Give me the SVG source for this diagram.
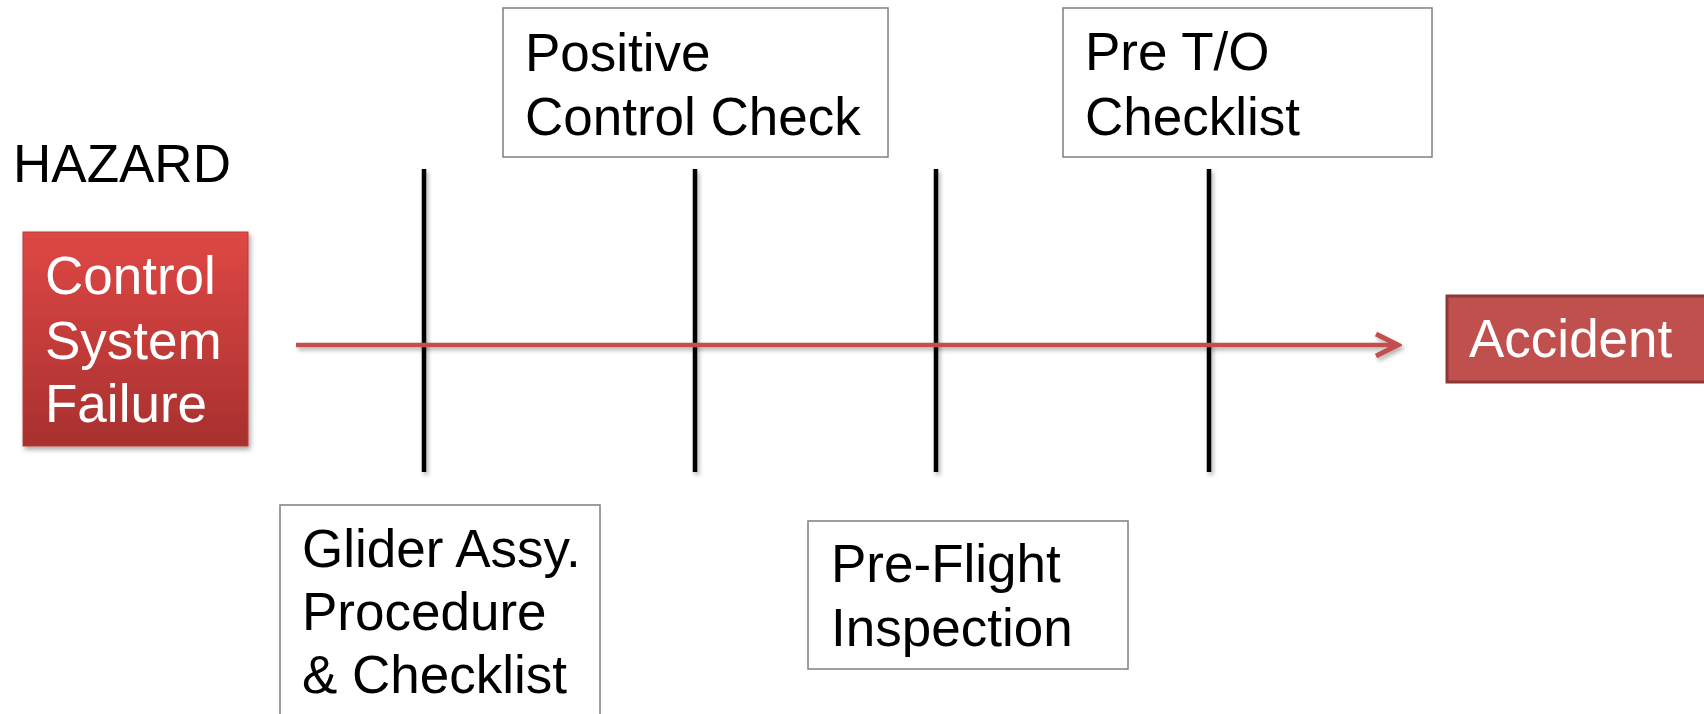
<svg xmlns="http://www.w3.org/2000/svg" width="1704" height="714" viewBox="0 0 1704 714">
<style>
text{font-family:"Liberation Sans",Arial,sans-serif;font-size:53px;}
.dark{fill:#000;}
.light{fill:#fff;}
.box{fill:#fff;stroke:#7f7f7f;stroke-width:1.5;}
.bar{stroke:#000;stroke-width:4.5;fill:none;}
.flow{stroke:#c0504d;stroke-width:4.5;fill:none;}
</style>
<defs>
<linearGradient id="redg" x1="0" y1="0" x2="0" y2="1">
<stop offset="0" stop-color="#de4845"/>
<stop offset="1" stop-color="#a8302e"/>
</linearGradient>
<filter id="sh" x="-10%" y="-10%" width="130%" height="130%">
<feDropShadow dx="2" dy="3" stdDeviation="2.5" flood-color="#000" flood-opacity="0.35"/>
</filter>
<filter id="lsh" filterUnits="userSpaceOnUse" x="0" y="0" width="1704" height="714">
<feDropShadow dx="2" dy="3" stdDeviation="2" flood-color="#000" flood-opacity="0.3"/>
</filter>
<marker id="arrow" markerUnits="userSpaceOnUse" markerWidth="30" markerHeight="30" refX="26" refY="15" orient="auto">
<path d="M4,4 L26,15 L4,26" fill="none" stroke="#c0504d" stroke-width="5" stroke-linejoin="miter"/>
</marker>
</defs>
<rect width="1704" height="714" fill="#fff"/>
<g id="hazard-label"><text class="dark" x="13" y="182">HAZARD</text></g>
<g id="hazard">
<rect x="23" y="232" width="225" height="214" fill="url(#redg)" stroke="#b83c39" stroke-width="1" filter="url(#sh)"/>
<text class="light" x="45" y="294">Control</text>
<text class="light" x="45" y="359">System</text>
<text class="light" x="45" y="422">Failure</text>
</g>
<g id="barriers" filter="url(#lsh)">
<line class="bar" x1="424" y1="169" x2="424" y2="472"/>
<line class="bar" x1="695" y1="169" x2="695" y2="472"/>
<line class="bar" x1="936" y1="169" x2="936" y2="472"/>
<line class="bar" x1="1209" y1="169" x2="1209" y2="472"/>
</g>
<g id="connectors" filter="url(#lsh)">
<line class="flow" x1="296" y1="345" x2="1398" y2="345" marker-end="url(#arrow)"/>
</g>
<g id="accident">
<rect x="1447" y="296" width="270" height="86" fill="#c0504d" stroke="#8c3836" stroke-width="3"/>
<text class="light" x="1469" y="357">Accident</text>
</g>
<g id="positive-control-check">
<rect class="box" x="503" y="8" width="385" height="149"/>
<text class="dark" x="525" y="71">Positive</text>
<text class="dark" x="525" y="135">Control Check</text>
</g>
<g id="pre-to-checklist">
<rect class="box" x="1063" y="8" width="369" height="149"/>
<text class="dark" x="1085" y="70">Pre T/O</text>
<text class="dark" x="1085" y="135">Checklist</text>
</g>
<g id="glider-assy">
<rect class="box" x="280" y="505" width="320" height="230"/>
<text class="dark" x="302" y="567">Glider Assy.</text>
<text class="dark" x="302" y="630">Procedure</text>
<text class="dark" x="302" y="693">&amp; Checklist</text>
</g>
<g id="pre-flight">
<rect class="box" x="808" y="521" width="320" height="148"/>
<text class="dark" x="831" y="582">Pre-Flight</text>
<text class="dark" x="831" y="646">Inspection</text>
</g>
</svg>
